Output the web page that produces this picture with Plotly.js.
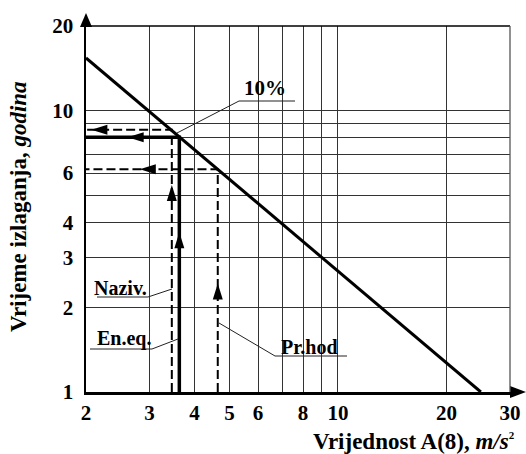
<!DOCTYPE html>
<html>
<head>
<meta charset="utf-8">
<script src="https://cdn.plot.ly/plotly-3.0.1.min.js"></script>
<style>html,body{margin:0;padding:0;background:#fff;}#chart{width:526px;height:454px;}</style>
</head>
<body>
<div id="chart"></div>
<script>
// ---- data ----
const limitA = [2, 24.9];          // A(8), m/s^2
const limitT = [15.4, 1];          // years (10% line)
const nazivA = [3.46, 3.46, 2];
const nazivT = [1, 8.56, 8.56];
const eneqA  = [3.63, 3.63, 2];
const eneqT  = [1, 8.05, 8.05];
const prhodA = [4.64, 4.64, 2];
const prhodT = [1, 6.19, 6.19];
// arrowhead tips: vertical (A, T) and horizontal (A, T)
const upArrowA   = [3.46, 3.63, 4.64];
const upArrowT   = [5.44, 3.7, 2.43];
const leftArrowA = [2.07, 2.61, 2.82];
const leftArrowT = [8.56, 8.05, 6.19];
const xTickVals = [2, 3, 4, 5, 6, 8, 10, 20, 30];
const xTickText = ['2', '3', '4', '5', '6', '8', '10', '20', '30'];
const xMinorVals = [7, 9];
const yTickVals = [1, 2, 3, 4, 6, 10, 20];
const yTickText = ['1', '2', '3', '4', '6', '10', '20'];
const yMinorVals = [5, 7, 8, 9];

// ---- layout geometry ----
const W = 526, H = 454, L = 86, R = 16, T = 26, B = 62;
const pw = W - L - R, ph = H - T - B;
const px = x => (x - L) / pw;
const py = y => (H - B - y) / ph;
const FONT = '"Liberation Serif", "Times New Roman", serif';

const traces = [
  {x: limitA, y: limitT, mode: 'lines', line: {color: '#000', width: 3}},
  {x: eneqA, y: eneqT, mode: 'lines', line: {color: '#000', width: 3.5}},
  {x: nazivA, y: nazivT, mode: 'lines', line: {color: '#000', width: 2, dash: '9px,4px'}},
  {x: prhodA, y: prhodT, mode: 'lines', line: {color: '#000', width: 2, dash: '9px,4px'}}
].map(t => Object.assign(t, {hoverinfo: 'skip', showlegend: false}));

const shapes = [];
upArrowA.forEach((a, i) => shapes.push({
  type: 'path', xref: 'x', yref: 'y', xsizemode: 'pixel', ysizemode: 'pixel',
  xanchor: a, yanchor: upArrowT[i], path: 'M0,0L-5,-16L5,-16Z',
  fillcolor: '#000', line: {width: 0}
}));
leftArrowA.forEach((a, i) => shapes.push({
  type: 'path', xref: 'x', yref: 'y', xsizemode: 'pixel', ysizemode: 'pixel',
  xanchor: a, yanchor: leftArrowT[i], path: 'M0,0L16,5L16,-5Z',
  fillcolor: '#000', line: {width: 0}
}));
// axis arrows
shapes.push({type: 'path', xref: 'paper', yref: 'paper', xsizemode: 'pixel', ysizemode: 'pixel',
  xanchor: 0, yanchor: 1, path: 'M0,13L-6,-1L6,-1Z', fillcolor: '#000', line: {width: 0}});
shapes.push({type: 'path', xref: 'paper', yref: 'paper', xsizemode: 'pixel', ysizemode: 'pixel',
  xanchor: 1, yanchor: 0, path: 'M16,0L0,6L0,-6Z', fillcolor: '#000', line: {width: 0}});
// frame top / right
shapes.push({type: 'line', xref: 'paper', yref: 'paper', x0: 0, x1: 1, y0: 1, y1: 1, line: {color: '#000', width: 1.3}});
shapes.push({type: 'line', xref: 'paper', yref: 'paper', x0: 1, x1: 1, y0: 0, y1: 1, line: {color: '#555', width: 1.3}});
// label underlines and leaders (pixel positions)
const seg = (x0, y0, x1, y1, c) => shapes.push({type: 'line', xref: 'paper', yref: 'paper',
  x0: px(x0), y0: py(y0), x1: px(x1), y1: py(y1), line: {color: c || '#222', width: 1}});
seg(239, 101, 295, 101); seg(239, 101, 177, 133);
seg(97, 297, 148, 297);  seg(148, 297, 172, 289);
seg(90, 349, 152, 349);  seg(152, 349, 178, 339);
seg(275, 356, 347, 356); seg(275, 356, 219, 323);

const ann = (text, x, y, size, extra) => Object.assign({
  text: text, xref: 'paper', yref: 'paper', x: px(x), y: py(y), showarrow: false,
  xanchor: 'center', yanchor: 'middle', font: {family: FONT, size: size, color: '#000', weight: 'bold'}
}, extra || {});

const annotations = [
  ann('<b>10%</b>', 265, 88, 21),
  ann('<b>Naziv.</b>', 120, 288, 20),
  ann('<b>En.eq.</b>', 124, 338, 20),
  ann('<b>Pr.hod</b>', 309, 347, 20),
  ann('<b>Vrijednost A(8), <i>m/s</i><sup><span style="font-size:11px">2</span></sup></b>', 517, 441, 23, {xanchor: 'right'}),
  ann('<b>Vrijeme izlaganja, <i>godina</i></b>', 18, 207, 23, {textangle: -90})
];

const axisCommon = {
  type: 'log', showline: true, linecolor: '#000', linewidth: 2.5, mirror: false,
  showgrid: true, gridcolor: '#333', gridwidth: 1, zeroline: false,
  ticks: '', tickmode: 'array', tickfont: {family: FONT, size: 21, color: '#000', weight: 'bold'},
  fixedrange: true
};

const layout = {
  width: W, height: H, margin: {l: L, r: R, t: T, b: B},
  paper_bgcolor: '#fff', plot_bgcolor: '#fff', showlegend: false,
  xaxis: Object.assign({}, axisCommon, {range: [Math.log10(2), Math.log10(30)],
    tickvals: xTickVals, ticktext: xTickText, ticklabelstandoff: 0,
    minor: {tickmode: 'array', tickvals: xMinorVals, showgrid: true, gridcolor: '#333', gridwidth: 1, ticks: ''}}),
  yaxis: Object.assign({}, axisCommon, {range: [0, Math.log10(20)],
    tickvals: yTickVals, ticktext: yTickText, ticklabelstandoff: 6,
    minor: {tickmode: 'array', tickvals: yMinorVals, showgrid: true, gridcolor: '#333', gridwidth: 1, ticks: ''}}),
  shapes: shapes, annotations: annotations
};

Plotly.newPlot('chart', traces, layout, {displayModeBar: false, staticPlot: true});
</script>
</body>
</html>
